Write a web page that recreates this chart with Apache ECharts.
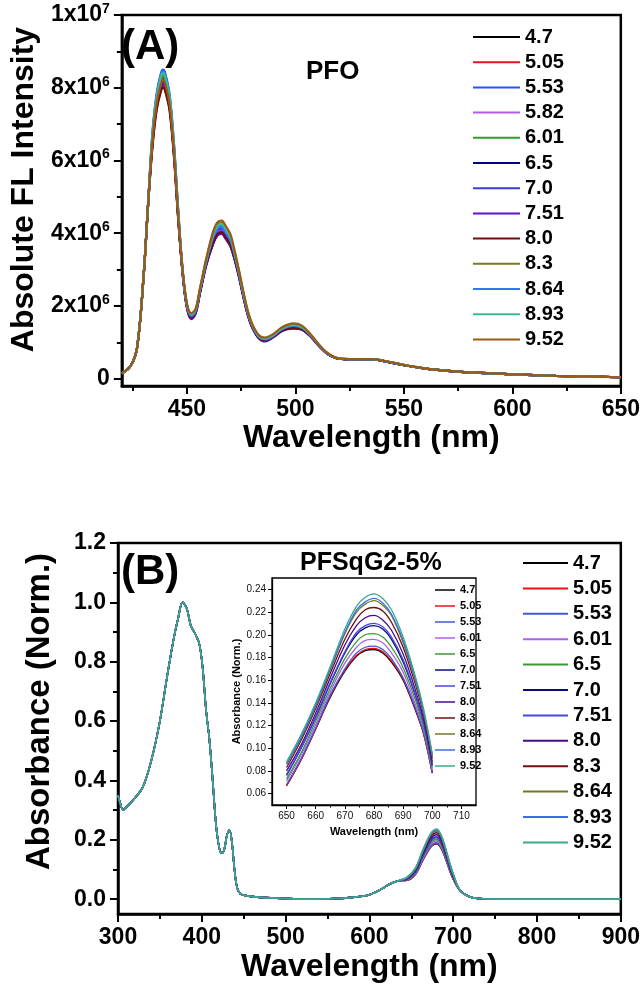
<!DOCTYPE html>
<html>
<head>
<meta charset="utf-8">
<script src="https://cdn.jsdelivr.net/npm/echarts@6/dist/echarts.min.js"></script>
<style>
html,body{margin:0;padding:0;background:#fff;}
#chart{width:643px;height:992px;}
</style>
</head>
<body>
<div id="chart"></div>
<script>
// ---------------- Panel A: PFO emission (intensity in units of 1e6) ----------------
const WL_A = [420,424,427,430,432,434,436,438,439,440,442,444,446,448,450,452,454,456,459,462,464,466,468,470,472,474,476,478,480,483,486,490,494,499,503,507,511,515,520,527,535,542,550,560,572,585,600,620,650];
const LABELS_A = ['4.7','5.05','5.53','5.82','6.01','6.5','7.0','7.51','8.0','8.3','8.64','8.93','9.52'];
const COLORS_A = ['#000000','#e3141c','#1f55ff','#b55ae6','#2e9e2e','#000080','#3c3cd2','#5b12c9','#6e0e12','#7a7a1e','#3278f0','#3db89a','#9a5a14'];
const FL_4_7  = [0.15,0.35,0.85,2.8,4.7,6.5,7.6,8.15,8.25,8.15,7.6,6.3,4.5,2.95,2.0,1.72,1.85,2.4,3.2,3.8,4.05,4.1,3.95,3.75,3.35,2.85,2.3,1.8,1.45,1.15,1.07,1.18,1.35,1.43,1.38,1.18,0.9,0.68,0.55,0.53,0.53,0.47,0.37,0.28,0.21,0.16,0.12,0.08,0.04];
const FL_5_05 = [0.15,0.35,0.85,2.8,4.7,6.34,7.41,7.95,8.05,7.95,7.41,6.15,4.4,2.95,2.0,1.70,1.84,2.4,3.2,3.75,4.0,4.05,3.9,3.71,3.35,2.85,2.3,1.8,1.45,1.15,1.06,1.17,1.34,1.42,1.37,1.18,0.9,0.68,0.55,0.53,0.53,0.47,0.37,0.28,0.21,0.16,0.12,0.08,0.04];
const FL_5_53 = [0.15,0.35,0.85,2.8,4.7,6.7,7.83,8.4,8.5,8.4,7.83,6.49,4.63,2.95,2.0,1.72,1.85,2.4,3.2,3.85,4.1,4.15,4.0,3.8,3.38,2.85,2.3,1.8,1.45,1.15,1.07,1.18,1.35,1.44,1.39,1.18,0.9,0.68,0.55,0.53,0.53,0.47,0.37,0.28,0.21,0.16,0.12,0.08,0.04];
const FL_5_82 = [0.15,0.35,0.85,2.8,4.7,6.46,7.55,8.1,8.2,8.1,7.55,6.26,4.47,2.95,2.0,1.70,1.84,2.4,3.2,3.78,4.03,4.08,3.93,3.73,3.35,2.85,2.3,1.8,1.45,1.15,1.06,1.17,1.34,1.42,1.37,1.18,0.9,0.68,0.55,0.53,0.53,0.47,0.37,0.28,0.21,0.16,0.12,0.08,0.04];
const FL_6_01 = [0.15,0.35,0.85,2.8,4.7,6.58,7.69,8.25,8.35,8.25,7.69,6.38,4.55,2.98,2.03,1.76,1.88,2.43,3.25,3.91,4.17,4.22,4.06,3.86,3.42,2.9,2.33,1.83,1.48,1.17,1.09,1.2,1.38,1.47,1.41,1.2,0.91,0.69,0.55,0.53,0.53,0.47,0.37,0.28,0.21,0.16,0.12,0.08,0.04];
const FL_6_5  = [0.15,0.35,0.85,2.8,4.7,6.42,7.51,8.05,8.15,8.05,7.51,6.23,4.44,2.9,1.96,1.65,1.8,2.35,3.15,3.71,3.95,4.0,3.85,3.66,3.28,2.8,2.26,1.77,1.42,1.12,1.03,1.15,1.32,1.39,1.35,1.16,0.89,0.67,0.55,0.53,0.53,0.47,0.37,0.28,0.21,0.16,0.12,0.08,0.04];
const FL_7_0  = [0.15,0.35,0.85,2.8,4.7,6.46,7.55,8.1,8.2,8.1,7.55,6.26,4.47,2.93,1.98,1.68,1.82,2.38,3.18,3.75,4.0,4.05,3.9,3.71,3.32,2.83,2.28,1.79,1.44,1.14,1.05,1.17,1.34,1.41,1.37,1.17,0.9,0.68,0.55,0.53,0.53,0.47,0.37,0.28,0.21,0.16,0.12,0.08,0.04];
const FL_7_51 = [0.15,0.35,0.85,2.8,4.7,6.38,7.46,8.0,8.1,8.0,7.46,6.19,4.41,2.9,1.95,1.64,1.79,2.35,3.14,3.69,3.93,3.98,3.83,3.64,3.27,2.79,2.25,1.76,1.42,1.12,1.03,1.15,1.32,1.38,1.35,1.16,0.89,0.67,0.55,0.53,0.53,0.47,0.37,0.28,0.21,0.16,0.12,0.08,0.04];
const FL_8_0  = [0.15,0.35,0.85,2.8,4.7,6.3,7.37,7.9,8.0,7.9,7.37,6.11,4.36,2.92,1.98,1.68,1.82,2.37,3.17,3.73,3.97,4.02,3.87,3.68,3.3,2.82,2.27,1.78,1.44,1.14,1.05,1.16,1.33,1.4,1.36,1.17,0.9,0.68,0.55,0.53,0.53,0.47,0.37,0.28,0.21,0.16,0.12,0.08,0.04];
const FL_8_3  = [0.15,0.35,0.85,2.8,4.7,6.54,7.64,8.2,8.3,8.2,7.64,6.34,4.52,3.0,2.05,1.78,1.9,2.46,3.3,3.99,4.25,4.3,4.14,3.93,3.48,2.95,2.37,1.86,1.5,1.19,1.11,1.22,1.4,1.5,1.44,1.21,0.92,0.69,0.56,0.54,0.54,0.48,0.38,0.28,0.21,0.16,0.12,0.08,0.04];
const FL_8_64 = [0.15,0.35,0.85,2.8,4.7,6.66,7.78,8.35,8.45,8.35,7.78,6.46,4.61,2.96,2.01,1.72,1.86,2.42,3.23,3.87,4.13,4.18,4.03,3.82,3.4,2.88,2.32,1.82,1.47,1.16,1.08,1.19,1.37,1.45,1.4,1.19,0.91,0.68,0.55,0.53,0.53,0.47,0.37,0.28,0.21,0.16,0.12,0.08,0.04];
const FL_8_93 = [0.15,0.35,0.85,2.8,4.7,6.62,7.74,8.3,8.4,8.3,7.74,6.42,4.58,2.99,2.04,1.77,1.89,2.45,3.28,3.94,4.2,4.25,4.09,3.89,3.45,2.92,2.35,1.85,1.49,1.18,1.1,1.21,1.39,1.48,1.42,1.2,0.92,0.69,0.56,0.54,0.54,0.48,0.38,0.28,0.21,0.16,0.12,0.08,0.04];
const FL_9_52 = [0.15,0.35,0.85,2.8,4.7,6.46,7.55,8.1,8.2,8.1,7.55,6.26,4.47,3.02,2.07,1.8,1.92,2.48,3.33,4.03,4.3,4.35,4.19,3.98,3.52,2.98,2.4,1.88,1.52,1.21,1.13,1.24,1.42,1.52,1.46,1.22,0.93,0.7,0.56,0.54,0.54,0.48,0.38,0.28,0.21,0.16,0.12,0.08,0.04];
const FL_ALL = [FL_4_7,FL_5_05,FL_5_53,FL_5_82,FL_6_01,FL_6_5,FL_7_0,FL_7_51,FL_8_0,FL_8_3,FL_8_64,FL_8_93,FL_9_52];
const A_YLABELS = [0,2,4,6,8,10];
const A_YMINOR = [1,3,5,7,9];
const A_XLABELS = [450,500,550,600,650];
const A_XMINOR = [425,475,525,575,625];

// ---------------- Panel B: PFSqG2-5% absorbance ----------------
const WL_B_HEAD = [300,303,306,310,320,330,340,350,358,366,372,377,382,387,392,397,401,405,409,413,417,421,424,427,430,433,436,439,442,446,452,470,500,530,560,580,600,615,625,635];
const WL_B_PEAK = [645,655,663,670,675,680,685,690,695,700];
const WL_B_TAIL = [708,718,730,760,800,850,900];
const ABS_HEAD = [0.35,0.32,0.30,0.31,0.34,0.38,0.47,0.60,0.74,0.87,0.95,1.0,0.98,0.92,0.895,0.86,0.78,0.64,0.54,0.40,0.25,0.17,0.155,0.17,0.215,0.232,0.19,0.10,0.04,0.018,0.012,0.006,0.002,0.0,0.002,0.006,0.015,0.035,0.052,0.062];
const ABS_TAIL = [0.03,0.01,0.002,0.0,0.0,0.0,0.0];
const LABELS_B = ['4.7','5.05','5.53','6.01','6.5','7.0','7.51','8.0','8.3','8.64','8.93','9.52'];
const COLORS_B = ['#000000','#f01010','#3c5ad2','#b060f0','#3b9a36','#0b0b7a','#4646e6','#4b0a8c','#6e1010','#76762a','#3c6ee6','#3aa88c'];
const ABS_4_7  = [0.064,0.084,0.127,0.163,0.181,0.187,0.175,0.143,0.103,0.068];
const ABS_5_05 = [0.064,0.084,0.128,0.164,0.182,0.188,0.176,0.144,0.104,0.068];
const ABS_5_53 = [0.065,0.085,0.129,0.166,0.184,0.190,0.178,0.146,0.105,0.069];
const ABS_6_01 = [0.066,0.088,0.133,0.171,0.190,0.196,0.183,0.150,0.108,0.071];
const ABS_6_5  = [0.067,0.090,0.137,0.175,0.195,0.201,0.188,0.154,0.111,0.073];
const ABS_7_0  = [0.068,0.093,0.142,0.181,0.202,0.208,0.195,0.159,0.115,0.075];
const ABS_7_51 = [0.069,0.094,0.143,0.183,0.204,0.210,0.197,0.161,0.116,0.076];
const ABS_8_0  = [0.070,0.097,0.148,0.189,0.210,0.217,0.203,0.166,0.120,0.078];
const ABS_8_3  = [0.071,0.100,0.152,0.195,0.217,0.224,0.210,0.172,0.124,0.081];
const ABS_8_64 = [0.073,0.103,0.157,0.201,0.223,0.230,0.215,0.176,0.127,0.083];
const ABS_8_93 = [0.073,0.104,0.158,0.202,0.225,0.232,0.217,0.178,0.128,0.084];
const ABS_9_52 = [0.074,0.105,0.160,0.205,0.228,0.236,0.220,0.180,0.130,0.085];
const ABS_PEAKS = [ABS_4_7,ABS_5_05,ABS_5_53,ABS_6_01,ABS_6_5,ABS_7_0,ABS_7_51,ABS_8_0,ABS_8_3,ABS_8_64,ABS_8_93,ABS_9_52];
const B_YLABELS = [0,0.2,0.4,0.6,0.8,1.0,1.2];
const B_YMINOR = [0.1,0.3,0.5,0.7,0.9,1.1];
const B_XLABELS = [300,400,500,600,700,800,900];
const B_XMINOR = [350,450,550,650,750,850];

// ---------------- Inset: 650-700 nm zoom ----------------
const WL_IN = [650,655,660,665,670,674,677,680,683,686,690,694,697,700];
const IN_4_7  = [0.067,0.090,0.117,0.145,0.168,0.181,0.186,0.187,0.184,0.176,0.160,0.135,0.113,0.078];
const IN_5_05 = [0.067,0.090,0.117,0.146,0.169,0.182,0.187,0.188,0.185,0.177,0.161,0.136,0.113,0.078];
const IN_5_53 = [0.068,0.091,0.118,0.147,0.170,0.184,0.189,0.190,0.187,0.179,0.162,0.137,0.114,0.079];
const IN_6_01 = [0.071,0.094,0.121,0.150,0.175,0.189,0.195,0.196,0.193,0.184,0.167,0.140,0.117,0.081];
const IN_6_5  = [0.073,0.096,0.124,0.153,0.179,0.194,0.200,0.201,0.198,0.189,0.171,0.144,0.119,0.083];
const IN_7_0  = [0.076,0.100,0.127,0.157,0.184,0.200,0.206,0.208,0.205,0.196,0.176,0.148,0.123,0.085];
const IN_7_51 = [0.077,0.100,0.128,0.158,0.185,0.202,0.208,0.210,0.207,0.198,0.178,0.149,0.123,0.086];
const IN_8_0  = [0.080,0.103,0.131,0.162,0.191,0.208,0.215,0.217,0.213,0.204,0.183,0.153,0.126,0.088];
const IN_8_3  = [0.083,0.107,0.135,0.166,0.196,0.214,0.222,0.224,0.221,0.211,0.189,0.158,0.130,0.091];
const IN_8_64 = [0.086,0.109,0.137,0.169,0.201,0.220,0.227,0.230,0.226,0.217,0.193,0.161,0.132,0.093];
const IN_8_93 = [0.086,0.110,0.138,0.170,0.202,0.222,0.229,0.232,0.228,0.218,0.195,0.163,0.133,0.094];
const IN_9_52 = [0.088,0.112,0.140,0.172,0.205,0.225,0.233,0.236,0.232,0.222,0.198,0.165,0.135,0.095];
const IN_ALL = [IN_4_7,IN_5_05,IN_5_53,IN_6_01,IN_6_5,IN_7_0,IN_7_51,IN_8_0,IN_8_3,IN_8_64,IN_8_93,IN_9_52];
const IN_YLABELS = [0.06,0.08,0.10,0.12,0.14,0.16,0.18,0.20,0.22,0.24];
const IN_YMINOR = [0.07,0.09,0.11,0.13,0.15,0.17,0.19,0.21,0.23];
const IN_XLABELS = [650,660,670,680,690,700,710];
const IN_XMINOR = [655,665,675,685,695,705];

// ---------------- Build chart ----------------
const FONT = "'Liberation Sans', Arial, Helvetica, sans-serif";
const NARROW = "'Liberation Sans Narrow', 'Arial Narrow', 'Liberation Sans', Arial, sans-serif";
const BLACK = '#000';

function mainX(grid, min, max, labels, name, nameGap) {
  return {
    type: 'value', gridIndex: grid, min: min, max: max, position: 'bottom',
    axisLine: { show: true, onZero: false, lineStyle: { color: BLACK, width: 2.5 } },
    axisTick: { show: true, inside: false, length: 8, customValues: labels, lineStyle: { color: BLACK, width: 2 } },
    axisLabel: { show: true, customValues: labels, margin: 12, fontSize: 23, fontWeight: 'bold', color: BLACK, fontFamily: FONT },
    splitLine: { show: false },
    name: name, nameLocation: 'middle', nameGap: nameGap,
    nameTextStyle: { fontSize: 32, fontWeight: 'bold', color: BLACK, fontFamily: FONT }
  };
}
function minorX(grid, min, max, ticks, len, w) {
  return {
    type: 'value', gridIndex: grid, min: min, max: max, position: 'bottom',
    axisLine: { show: false, onZero: false },
    axisTick: { show: true, inside: false, length: len, customValues: ticks, lineStyle: { color: BLACK, width: w } },
    axisLabel: { show: false }, splitLine: { show: false }
  };
}
function minorY(grid, min, max, ticks, len, w) {
  return {
    type: 'value', gridIndex: grid, min: min, max: max, position: 'left',
    axisLine: { show: false, onZero: false },
    axisTick: { show: true, inside: false, length: len, customValues: ticks, lineStyle: { color: BLACK, width: w } },
    axisLabel: { show: false }, splitLine: { show: false }
  };
}

const series = [];
LABELS_A.forEach((lab, i) => {
  series.push({
    type: 'line', name: 'A|' + lab, xAxisIndex: 0, yAxisIndex: 0,
    data: WL_A.map((w, j) => [w, FL_ALL[i][j]]),
    smooth: 0.35, symbol: 'none', color: COLORS_A[i],
    lineStyle: { color: COLORS_A[i], width: 2.2 }
  });
});
LABELS_B.forEach((lab, i) => {
  const vals = ABS_HEAD.concat(ABS_PEAKS[i], ABS_TAIL);
  const wls = WL_B_HEAD.concat(WL_B_PEAK, WL_B_TAIL);
  series.push({
    type: 'line', name: 'B|' + lab, xAxisIndex: 2, yAxisIndex: 2,
    data: wls.map((w, j) => [w, vals[j]]),
    smooth: 0.35, symbol: 'none', color: COLORS_B[i],
    lineStyle: { color: COLORS_B[i], width: 1.6 }
  });
});
LABELS_B.forEach((lab, i) => {
  series.push({
    type: 'line', name: 'C|' + lab, xAxisIndex: 4, yAxisIndex: 4,
    data: WL_IN.map((w, j) => [w, IN_ALL[i][j]]),
    smooth: 0.35, symbol: 'none', color: COLORS_B[i],
    lineStyle: { color: COLORS_B[i], width: 1.3 }
  });
});

const legendText = (size, lh) => ({ fontSize: size, fontWeight: 'bold', color: BLACK, fontFamily: FONT, lineHeight: lh });

const option = {
  animation: false,
  backgroundColor: '#fff',
  textStyle: { fontFamily: FONT },
  title: [
    { text: '(A)', left: 121, top: 26, padding: 0, textStyle: { fontSize: 42, lineHeight: 42, fontWeight: 'bold', color: BLACK, fontFamily: FONT } },
    { text: 'PFO', left: 306, top: 59, padding: 0, textStyle: { fontSize: 26, lineHeight: 26, fontWeight: 'bold', color: BLACK, fontFamily: FONT } },
    { text: '(B)', left: 121, top: 551, padding: 0, textStyle: { fontSize: 42, lineHeight: 42, fontWeight: 'bold', color: BLACK, fontFamily: FONT } },
    { text: 'PFSqG2-5%', left: 300, top: 551, padding: 0, textStyle: { fontSize: 25, lineHeight: 25, fontWeight: 'bold', color: BLACK, fontFamily: FONT } }
  ],
  grid: [
    { left: 118, top: 15, width: 503, height: 371, show: true, borderColor: BLACK, borderWidth: 2.5, containLabel: false },
    { left: 118, top: 543, width: 503, height: 371, show: true, borderColor: BLACK, borderWidth: 2.5, containLabel: false },
    { left: 272, top: 578, width: 204, height: 227, show: true, borderColor: BLACK, borderWidth: 1.3, backgroundColor: '#fff', containLabel: false }
  ],
  xAxis: [
    mainX(0, 420, 650, A_XLABELS, 'Wavelength (nm)', 33),
    minorX(0, 420, 650, A_XMINOR, 5, 2),
    mainX(1, 300, 900, B_XLABELS, 'Wavelength (nm)', 37),
    minorX(1, 300, 900, B_XMINOR, 5, 2),
    {
      type: 'value', gridIndex: 2, min: 645, max: 715, position: 'bottom',
      axisLine: { show: true, onZero: false, lineStyle: { color: BLACK, width: 1.3 } },
      axisTick: { show: true, inside: false, length: 4, customValues: IN_XLABELS, lineStyle: { color: BLACK, width: 1 } },
      axisLabel: { show: true, customValues: IN_XLABELS, margin: 6, fontSize: 10, color: '#111', fontFamily: NARROW },
      splitLine: { show: false },
      name: 'Wavelength (nm)', nameLocation: 'middle', nameGap: 21,
      nameTextStyle: { fontSize: 11, fontWeight: 'bold', color: BLACK, fontFamily: NARROW }
    },
    minorX(2, 645, 715, IN_XMINOR, 2.5, 1)
  ],
  yAxis: [
    {
      type: 'value', gridIndex: 0, min: -0.2, max: 10, position: 'left',
      axisLine: { show: true, onZero: false, lineStyle: { color: BLACK, width: 2.5 } },
      axisTick: { show: true, inside: false, length: 8, customValues: A_YLABELS, lineStyle: { color: BLACK, width: 2 } },
      axisLabel: {
        show: true, customValues: A_YLABELS, margin: 12,
        formatter: v => v === 0 ? '{n|0}' : (v === 10 ? '{n|1x10}{s|7}' : '{n|' + v + 'x10}{s|6}'),
        rich: {
          n: { fontSize: 23, fontWeight: 'bold', color: BLACK, fontFamily: FONT, lineHeight: 26 },
          s: { fontSize: 14, fontWeight: 'bold', color: BLACK, fontFamily: FONT, lineHeight: 14, verticalAlign: 'top' }
        }
      },
      splitLine: { show: false },
      name: 'Absolute FL Intensity', nameLocation: 'middle', nameGap: 80, nameRotate: 90,
      nameTextStyle: { fontSize: 32, fontWeight: 'bold', color: BLACK, fontFamily: FONT, padding: [0, 0, 0, 22] }
    },
    minorY(0, -0.2, 10, A_YMINOR, 5, 2),
    {
      type: 'value', gridIndex: 1, min: -0.05, max: 1.2, position: 'left',
      axisLine: { show: true, onZero: false, lineStyle: { color: BLACK, width: 2.5 } },
      axisTick: { show: true, inside: false, length: 8, customValues: B_YLABELS, lineStyle: { color: BLACK, width: 2 } },
      axisLabel: { show: true, customValues: B_YLABELS, margin: 12, formatter: v => v.toFixed(1),
        fontSize: 23, fontWeight: 'bold', color: BLACK, fontFamily: FONT },
      splitLine: { show: false },
      name: 'Absorbance (Norm.)', nameLocation: 'middle', nameGap: 62, nameRotate: 90,
      nameTextStyle: { fontSize: 33, fontWeight: 'bold', color: BLACK, fontFamily: FONT, padding: [0, 0, 0, 34] }
    },
    minorY(1, -0.05, 1.2, B_YMINOR, 5, 2),
    {
      type: 'value', gridIndex: 2, min: 0.05, max: 0.25, position: 'left',
      axisLine: { show: true, onZero: false, lineStyle: { color: BLACK, width: 1.3 } },
      axisTick: { show: true, inside: false, length: 4, customValues: IN_YLABELS, lineStyle: { color: BLACK, width: 1 } },
      axisLabel: { show: true, customValues: IN_YLABELS, margin: 6, formatter: v => v.toFixed(2),
        fontSize: 10, color: '#111', fontFamily: NARROW },
      splitLine: { show: false },
      name: 'Absorbance (Norm.)', nameLocation: 'middle', nameGap: 22, nameRotate: 90,
      nameTextStyle: { fontSize: 11, fontWeight: 'bold', color: BLACK, fontFamily: FONT }
    },
    minorY(2, 0.05, 0.25, IN_YMINOR, 2.5, 1)
  ],
  legend: [
    {
      orient: 'vertical', left: 473, top: 27, padding: 0, icon: 'rect', itemWidth: 47, itemHeight: 2, itemGap: 5.2,
      selectedMode: false, data: LABELS_A.map(l => 'A|' + l), formatter: n => n.split('|')[1],
      textStyle: legendText(20, 20)
    },
    {
      orient: 'vertical', left: 523, top: 553, padding: 0, icon: 'rect', itemWidth: 45, itemHeight: 2, itemGap: 5.4,
      selectedMode: false, data: LABELS_B.map(l => 'B|' + l), formatter: n => n.split('|')[1],
      textStyle: legendText(20, 20)
    },
    {
      orient: 'vertical', left: 435, top: 584, padding: 0, icon: 'rect', itemWidth: 20, itemHeight: 1.5, itemGap: 4,
      selectedMode: false, data: LABELS_B.map(l => 'C|' + l), formatter: n => n.split('|')[1],
      textStyle: { fontSize: 11, fontWeight: 'bold', color: BLACK, fontFamily: NARROW, lineHeight: 12 }
    }
  ],
  series: series
};

const chart = echarts.init(document.getElementById('chart'), null, { renderer: 'canvas' });
chart.setOption(option);
</script>
</body>
</html>
